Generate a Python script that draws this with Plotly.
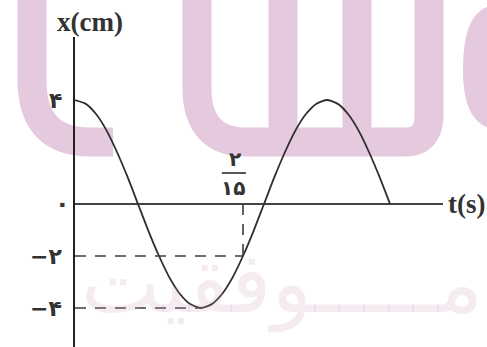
import plotly.graph_objects as go

# Displacement of the oscillator, sampled every 1/120 s
t_s = [0, 0.0083, 0.0167, 0.025, 0.0333, 0.0417, 0.05, 0.0583, 0.0667, 0.075,
       0.0833, 0.0917, 0.1, 0.1083, 0.1167, 0.125, 0.1333, 0.1417, 0.15, 0.1583,
       0.1667, 0.175, 0.1833, 0.1917, 0.2, 0.2083, 0.2167, 0.225, 0.2333, 0.2417,
       0.25]
x_cm = [4, 3.86, 3.46, 2.83, 2, 1.04, 0, -1.04, -2, -2.83,
        -3.46, -3.86, -4, -3.86, -3.46, -2.83, -2, -1.04, 0, 1.04,
        2, 2.83, 3.46, 3.86, 4, 3.86, 3.46, 2.83, 2, 1.04,
        0]

# Marked values on the vertical axis
y_ticks = [4, 0, -2, -4]
y_labels = ["۴", "۰", "−۲", "−۴"]

# Time at which the body first returns to x = -2 cm (2/15 s)
t_mark = 2 / 15
x_mark = -2
frac_num = "۲"
frac_den = "۱۵"

# Minimum of the motion
t_min = 0.1
x_min = -4

W, H = 487, 347
ML, MR, MT, MB = 75, 44, 37, 0
PW, PH = W - ML - MR, H - MT - MB
T_SCALE = 1260.0   # px per second
X_SCALE = 26.0     # px per cm
ZERO_PX = 204      # y pixel of x = 0

x_range = [0, PW / T_SCALE]
y_range = [-(H - ZERO_PX) / X_SCALE, (ZERO_PX - MT) / X_SCALE]

INK = "#2e2e2e"
PINK = "#e5cadf"


def P(px, py):
    """Pixel position -> paper coordinates string."""
    return f"{(px - ML) / PW:.4f},{(H - MB - py) / PH:.4f}"


def path(cmds):
    return " ".join(c if isinstance(c, str) else P(*c) for c in cmds)


fig = go.Figure()
fig.add_trace(go.Scatter(
    x=t_s, y=x_cm, mode="lines",
    line=dict(color=INK, width=1.8, shape="spline", smoothing=0.6),
    hoverinfo="skip", showlegend=False, cliponaxis=False,
))

shapes = []
# Background logo strokes
logo_paths = [
    ["M", (32, -10), "L", (32, 80), "C", (32, 125), (55, 142), (90, 142), "L", (113, 142)],
    ["M", (197, -10), "L", (197, 88), "C", (197, 125), (215, 142), (245, 142),
     "L", (405, 142), "C", (422, 142), (429, 132), (429, 115), "L", (429, -10)],
    ["M", (283, -10), "L", (283, 142)],
    ["M", (357, -10), "L", (357, 142)],
]
for p in logo_paths:
    shapes.append(dict(type="path", xref="paper", yref="paper", layer="below",
                       path=path(p), line=dict(color=PINK, width=29)))
shapes.append(dict(type="path", xref="paper", yref="paper", layer="below",
                   path=path(["M", (495, 5), "C", (470, 8), (463, 35), (463, 70),
                              "C", (463, 105), (472, 125), (495, 130), "Z"]),
                   fillcolor=PINK, line=dict(width=0)))

dash = dict(color="#3c3c3c", width=1.6, dash="11px,9px")
shapes += [
    dict(type="line", xref="x", yref="y", x0=0, x1=t_mark, y0=x_mark, y1=x_mark, line=dash),
    dict(type="line", xref="x", yref="y", x0=t_mark, x1=t_mark, y0=0, y1=x_mark, line=dash),
    dict(type="line", xref="x", yref="y", x0=0, x1=t_min, y0=x_min, y1=x_min, line=dash),
    # fraction bar of 2/15
    dict(type="line", xref="x", yref="y", xsizemode="pixel", ysizemode="pixel",
         xanchor=t_mark, yanchor=0, x0=-21, x1=3, y0=31, y1=31,
         line=dict(color=INK, width=1.6)),
]

serif = "Liberation Serif"
digits = "DejaVu Sans"
ann = [
    dict(text="مـــــوفقیت", xref="paper", yref="paper",
         x=(485 - ML) / PW, y=(H - 283) / PH, xanchor="right", yanchor="middle",
         showarrow=False, font=dict(family=digits, size=84, color="rgba(205,160,192,0.20)")),
    dict(text="<b>x(cm)</b>", xref="paper", yref="paper",
         x=(90 - ML) / PW, y=(H - 22) / PH, xanchor="center", yanchor="middle",
         showarrow=False, font=dict(family=serif, size=27, color="#333")),
    dict(text="<b>t(s)</b>", xref="paper", yref="y",
         x=(446 - ML) / PW, y=0, xanchor="left", yanchor="middle",
         showarrow=False, font=dict(family=serif, size=27, color="#333")),
    dict(text=f"<b>{frac_num}</b>", xref="x", yref="y", x=t_mark, y=0,
         xshift=-8, yshift=45, showarrow=False,
         font=dict(family=digits, size=20, color="#333")),
    dict(text=f"<b>{frac_den}</b>", xref="x", yref="y", x=t_mark, y=0,
         xshift=-10, yshift=16, showarrow=False,
         font=dict(family=digits, size=20, color="#333")),
]
for v, lab in zip(y_ticks, y_labels):
    ann.append(dict(text=f"<b>{lab}</b>", xref="x", yref="y", x=0, y=v,
                    xanchor="right", yanchor="middle",
                    xshift=-3 if v == 0 else -11, showarrow=False,
                    font=dict(family=digits, size=22 if v != 0 else 24, color="#333")))

fig.update_layout(
    width=W, height=H,
    margin=dict(l=ML, r=MR, t=MT, b=MB),
    paper_bgcolor="white", plot_bgcolor="rgba(0,0,0,0)",
    showlegend=False,
    shapes=shapes, annotations=ann,
    xaxis=dict(range=x_range, showgrid=False, zeroline=False, showline=False,
               showticklabels=False, ticks="", fixedrange=True),
    yaxis=dict(range=y_range, showgrid=False, zeroline=True, zerolinecolor="#444",
               zerolinewidth=1.6, showline=True, linecolor="#222", linewidth=2,
               showticklabels=False, ticks="", fixedrange=True),
)

fig.write_html("out.html")
